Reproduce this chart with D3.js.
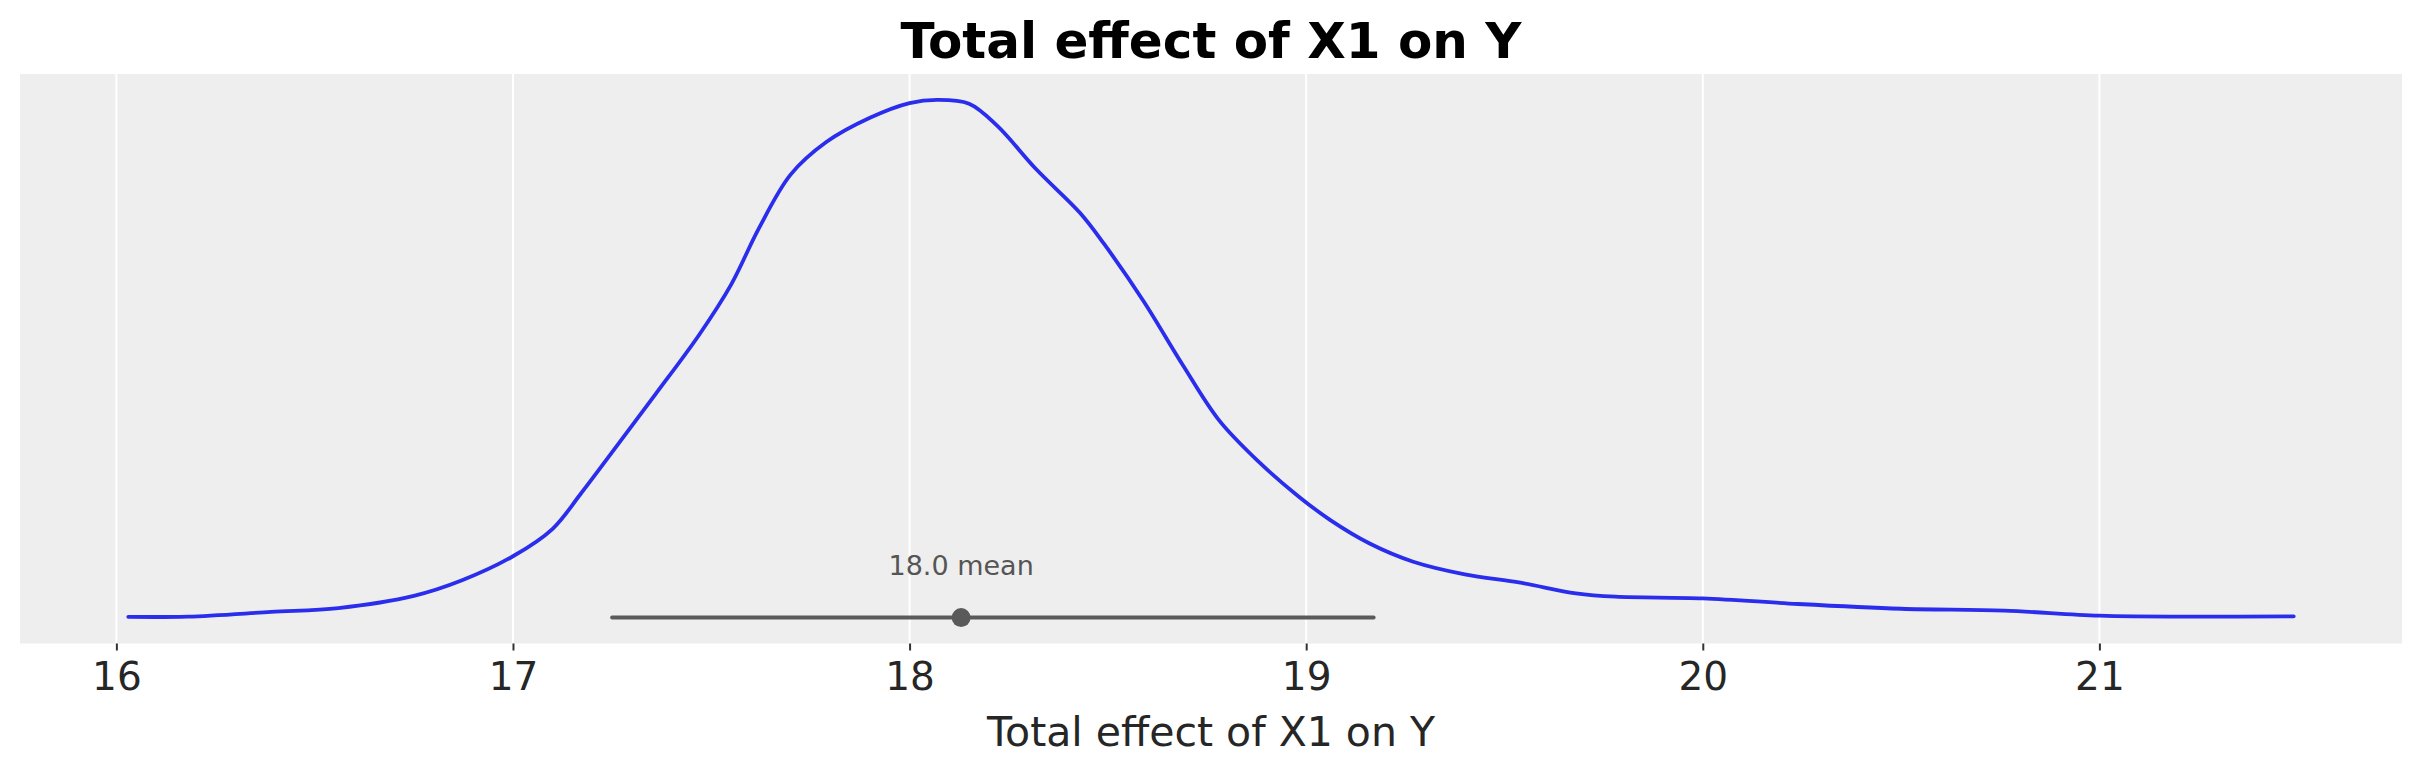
<!DOCTYPE html>
<html>
<head>
<meta charset="utf-8">
<script src="https://cdn.jsdelivr.net/npm/d3@7"></script>
<style>
  body { margin: 0; background: #ffffff; }
  svg { display: block; font-family: "DejaVu Sans", sans-serif; }
</style>
</head>
<body>
<script>
// posterior density of the total effect
const effectValues = [16.03, 16.18, 16.39, 16.56, 16.75, 16.87, 17.0, 17.1, 17.17, 17.26,
  17.36, 17.47, 17.55, 17.62, 17.70, 17.79, 17.90, 18.0, 18.07, 18.15,
  18.22, 18.32, 18.43, 18.49, 18.59, 18.69, 18.78, 18.88, 18.98, 19.06,
  19.16, 19.27, 19.40, 19.54, 19.68, 19.78, 20.0, 20.24, 20.50, 20.76,
  21.0, 21.26, 21.49];
const densityValues = [0.0012, 0.0016, 0.0089, 0.015, 0.034, 0.058, 0.096, 0.139, 0.193, 0.267,
  0.350, 0.443, 0.521, 0.609, 0.693, 0.744, 0.782, 0.805, 0.81, 0.804,
  0.770, 0.701, 0.633, 0.585, 0.495, 0.394, 0.309, 0.244, 0.19, 0.153,
  0.116, 0.0875, 0.0677, 0.0546, 0.038, 0.0327, 0.0302, 0.0213, 0.0139, 0.0109,
  0.003, 0.0015, 0.002];
const hdiInterval = [17.25, 19.17];
const meanValue = 18.13;
const meanLabel = "18.0 mean";
const tickValues = [16, 17, 18, 19, 20, 21];
const titleText = "Total effect of X1 on Y";
const xLabelText = "Total effect of X1 on Y";

const w = 2423;
const h = 773;
const margin = {top: 74, right: 21, bottom: 129.5, left: 20};
const fontFamily = "'DejaVu Sans', sans-serif";

const svg = d3.select("body")
  .append("svg")
  .attr("width", w)
  .attr("height", h);

// matplotlib style 5% margins on the data range
const xMin = d3.min(effectValues), xMax = d3.max(effectValues);
const xPad = (xMax - xMin) * 0.05;
const xScale = d3.scaleLinear()
  .domain([xMin - xPad, xMax + xPad])
  .range([margin.left, w - margin.right]);

const yMax = d3.max(densityValues);
const yScale = d3.scaleLinear()
  .domain([-yMax * 0.05, yMax * 1.05])
  .range([h - margin.bottom, margin.top]);

// panel background
svg.append("rect")
  .attr("x", margin.left)
  .attr("y", margin.top)
  .attr("width", w - margin.left - margin.right)
  .attr("height", h - margin.top - margin.bottom)
  .attr("fill", "#eeeeee");

// vertical grid
svg.append("g")
  .selectAll("line")
  .data(tickValues)
  .enter()
  .append("line")
  .attr("x1", d => xScale(d))
  .attr("x2", d => xScale(d))
  .attr("y1", margin.top)
  .attr("y2", h - margin.bottom)
  .attr("stroke", "#ffffff")
  .attr("stroke-width", 2);

// x axis
const xAxis = d3.axisBottom(xScale)
  .tickValues(tickValues)
  .tickFormat(d3.format("d"))
  .tickSize(7)
  .tickPadding(12);
const axisG = svg.append("g")
  .attr("transform", "translate(0," + (h - margin.bottom) + ")")
  .call(xAxis)
  .attr("font-family", fontFamily);
axisG.select(".domain").remove();
axisG.selectAll(".tick line").attr("stroke", "#333333").attr("stroke-width", 2);
axisG.selectAll(".tick text")
  .attr("fill", "#262626")
  .style("font-size", "39px");

// density curve
const pts = effectValues.map((v, i) => [v, densityValues[i]]);
const line = d3.line()
  .x(d => xScale(d[0]))
  .y(d => yScale(d[1]))
  .curve(d3.curveCatmullRom.alpha(0.5));
svg.append("path")
  .datum(pts)
  .attr("d", line)
  .attr("fill", "none")
  .attr("stroke", "#2a2eec")
  .attr("stroke-width", 3.8)
  .attr("stroke-linecap", "round")
  .attr("stroke-linejoin", "round");

// hdi line and mean point
svg.append("line")
  .attr("x1", xScale(hdiInterval[0]))
  .attr("x2", xScale(hdiInterval[1]))
  .attr("y1", yScale(0))
  .attr("y2", yScale(0))
  .attr("stroke", "#5a5a5a")
  .attr("stroke-width", 4)
  .attr("stroke-linecap", "round");

svg.append("circle")
  .attr("cx", xScale(meanValue))
  .attr("cy", yScale(0))
  .attr("r", 9.5)
  .attr("fill", "#5a5a5a");

svg.append("text")
  .attr("x", xScale(meanValue))
  .attr("y", yScale(0) - 43)
  .attr("text-anchor", "middle")
  .attr("fill", "#555555")
  .style("font-size", "27px")
  .text(meanLabel);

// title and axis label
svg.append("text")
  .attr("x", (margin.left + w - margin.right) / 2)
  .attr("y", 58)
  .attr("text-anchor", "middle")
  .attr("fill", "#000000")
  .style("font-size", "50px")
  .style("font-weight", "bold")
  .text(titleText);

svg.append("text")
  .attr("x", (margin.left + w - margin.right) / 2)
  .attr("y", 746)
  .attr("text-anchor", "middle")
  .attr("fill", "#262626")
  .style("font-size", "41px")
  .text(xLabelText);
</script>
</body>
</html>
